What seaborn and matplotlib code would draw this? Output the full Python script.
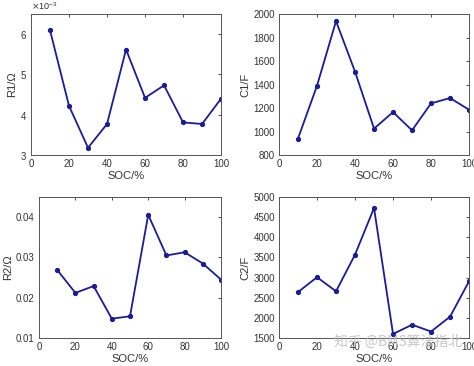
import matplotlib
matplotlib.use("Agg")
import matplotlib.pyplot as plt
import matplotlib.ticker as mticker
import numpy as np
import pandas as pd
import seaborn as sns

soc = [10, 20, 30, 40, 50, 60, 70, 80, 90, 100]
r1 = [6.10e-3, 4.22e-3, 3.18e-3, 3.77e-3, 5.62e-3, 4.42e-3, 4.73e-3, 3.81e-3, 3.77e-3, 4.40e-3]
c1 = [940, 1390, 1940, 1510, 1025, 1165, 1010, 1240, 1285, 1185]
r2 = [0.0269, 0.0212, 0.0229, 0.0148, 0.0154, 0.0406, 0.0305, 0.0313, 0.0285, 0.0245]
c2 = [2640, 3010, 2660, 3570, 4730, 1600, 1830, 1660, 2030, 2910]

sns.set_style("white")
plt.rcParams['font.family'] = ['Liberation Sans', 'Noto Sans CJK SC', 'DejaVu Sans']
plt.rcParams['axes.unicode_minus'] = False

line_color = "#1c1c96"
fig = plt.figure(figsize=(4.74, 3.66), dpi=100)

panels = [
    ([0.0654, 0.5765, 0.401, 0.385], r1, "R1/Ω", (3e-3, 6.5e-3), [3e-3, 4e-3, 5e-3, 6e-3]),
    ([0.5886, 0.5765, 0.401, 0.385], c1, "C1/F", (800, 2000), [800, 1000, 1200, 1400, 1600, 1800, 2000]),
    ([0.0823, 0.0765, 0.384, 0.385], r2, "R2/Ω", (0.01, 0.045), [0.01, 0.02, 0.03, 0.04]),
    ([0.5886, 0.0765, 0.401, 0.385], c2, "C2/F", (1500, 5000), [1500, 2000, 2500, 3000, 3500, 4000, 4500, 5000]),
]

for pos, vals, ylabel, ylim, yticks in panels:
    ax = fig.add_axes(pos)
    df = pd.DataFrame({"SOC": soc, "val": vals})
    sns.lineplot(data=df, x="SOC", y="val", ax=ax, color=line_color, marker="o",
                 markersize=3, markeredgecolor=line_color, linewidth=1.3)
    ax.set_xlim(0, 100)
    ax.set_ylim(*ylim)
    ax.set_xticks([0, 20, 40, 60, 80, 100])
    ax.set_yticks(yticks)
    ax.set_xlabel("SOC/%", fontsize=8, color="#333333", labelpad=1)
    ax.set_ylabel(ylabel, fontsize=8, color="#333333", labelpad=2)
    ax.tick_params(direction="in", length=2.5, width=0.6, labelsize=7,
                   colors="#333333", top=True, right=True, pad=3)
    for s in ax.spines.values():
        s.set_color("#555555")
        s.set_linewidth(0.7)
    if ylabel == "R1/Ω":
        fmt = mticker.ScalarFormatter(useMathText=True)
        fmt.set_powerlimits((-3, -3))
        ax.yaxis.set_major_formatter(fmt)
        ax.yaxis.get_offset_text().set_fontsize(6.5)
        ax.yaxis.get_offset_text().set_color("#333333")

# watermark
fig.text(0.975, 0.065, "知乎 @BMS算法指北", ha="right", va="center",
         fontsize=10, color="#bbbbbb", alpha=0.8,
         family=['Noto Sans CJK SC', 'DejaVu Sans'])

fig.savefig("out.png", dpi=100)
